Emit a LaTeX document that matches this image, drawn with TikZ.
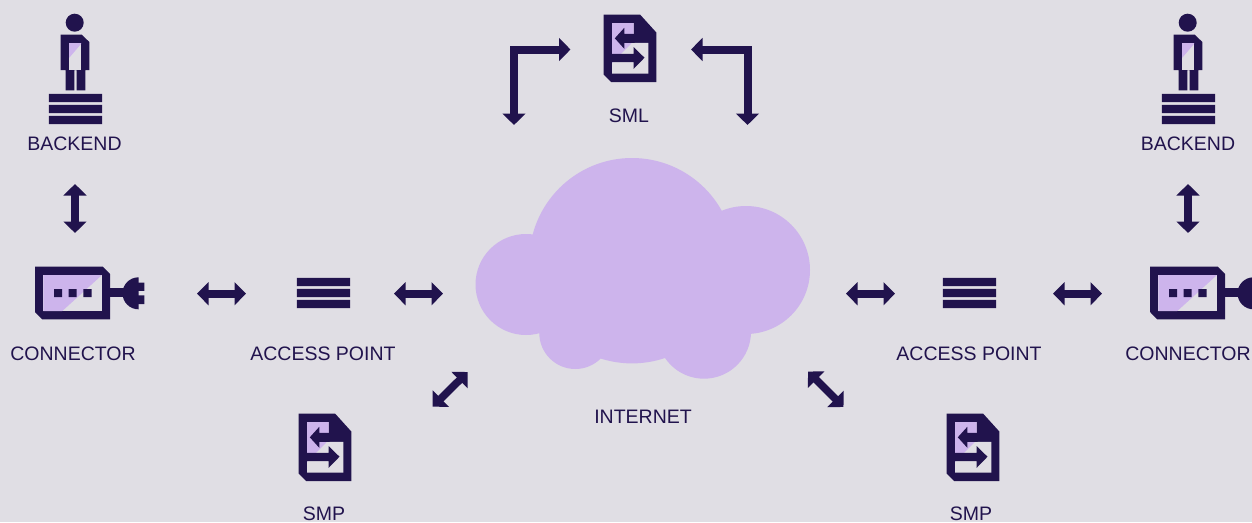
\documentclass[tikz,border=0pt]{standalone}
\usepackage{fontspec}
\setmainfont{Liberation Sans}
\usetikzlibrary{arrows.meta}
\definecolor{bgc}{HTML}{E0DEE4}
\definecolor{dark}{HTML}{21134D}
\definecolor{lav}{HTML}{CDB4EC}
\tikzset{
  lab/.style={anchor=base,text=dark,font=\fontsize{19.5}{22}\selectfont,inner sep=0pt},
  conn/.style={draw=dark,line width=7.6pt,{Triangle[length=11.5pt,width=22.5pt]}-{Triangle[length=11.5pt,width=22.5pt]}},
  elbow/.style={draw=dark,line width=8pt,line join=miter,{Triangle[length=11.5pt,width=22.5pt]}-{Triangle[length=11.5pt,width=22.5pt]}},
  pics/person/.style={code={
    \fill[dark] (74.7,22.7) circle (9);
    \fill[dark] (60.7,34.7) -- (81.8,34.7) -- (89.3,42) -- (89.3,70) -- (85.3,70) -- (85.3,90.3) -- (76.7,90.3) -- (76.7,70) -- (74.3,70) -- (74.3,90.3) -- (65.7,90.3) -- (65.7,70) -- (60.7,70) -- cycle;
    \fill[bgc] (69,43) rectangle (81,69.7);
    \fill[lav] (69,43) -- (81,43) -- (81,44) -- (69,58) -- cycle;
    \fill[dark] (48.8,93.8) rectangle (102.2,102.2) (48.8,104.8) rectangle (102.2,113.2) (48.8,115.8) rectangle (102.2,124.2);
  }},
  pics/connectoricon/.style={code={
    \fill[dark] (35,266.7) -- (102.8,266.7) -- (110,274) -- (110,319.3) -- (42.2,319.3) -- (35,312) -- cycle;
    \fill[bgc] (43.3,275) rectangle (102,311);
    \fill[lav] (43.3,275) -- (102,275) -- (62.3,311) -- (43.3,311) -- cycle;
    \fill[dark] (54,289) rectangle (62,297) (68.7,289) rectangle (76.7,297) (83.4,289) rectangle (91.6,297);
    \fill[dark] (109,288.3) rectangle (126,297.3);
    \fill[dark] (138.5,277.3) arc[start angle=270,end angle=90,radius=16] -- cycle;
    \fill[dark] (138,282.7) rectangle (144.3,290.8) (138,295.4) rectangle (144.3,304);
  }},
  pics/docicon/.style={code={
    \fill[dark] (603.7,14.7) -- (640.2,14.7) -- (656.3,32.5) -- (656.3,82) -- (611.2,82) -- (603.7,74.5) -- cycle;
    \fill[bgc] (612,23) -- (633.7,23) -- (633.7,42.8) -- (648.4,42.8) -- (648.4,73.7) -- (612,73.7) -- cycle;
    \fill[lav] (612,23) -- (633.7,23) -- (633.7,41) -- (612,63) -- cycle;
    \fill[dark] (614.8,38.3) -- (624.3,27.8) -- (624.3,33.8) -- (634.5,33.8) -- (634.5,42.8) -- (624.3,42.8) -- (624.3,48.8) -- cycle;
    \fill[dark] (644.5,57.7) -- (633.7,47.2) -- (633.7,53.8) -- (611,53.8) -- (611,62.2) -- (633.7,62.2) -- (633.7,68.8) -- cycle;
  }}
}
\begin{document}
\begin{tikzpicture}[x=1pt,y=-1pt]
\useasboundingbox (0,0) rectangle (1252,522);
\clip (0,0) rectangle (1252,522);
\fill[bgc] (0,0) rectangle (1252,522);
% cloud
\fill[lav] (632,260.7) circle (102.7) (526,284.5) circle (50.5) (746,270) circle (64) (575.3,333) circle (36) (704,331.7) circle (47);
% icons
\pic at (0,0) {person};
\pic at (1113,0) {person};
\pic at (0,0) {connectoricon};
\pic at (1115,0) {connectoricon};
\pic at (0,0) {docicon};
\pic at (-305,399) {docicon};
\pic at (343,399) {docicon};
\fill[dark] (296.8,277.8) rectangle (350.2,286.2) (296.8,288.8) rectangle (350.2,297.2) (296.8,299.8) rectangle (350.2,308.2);
\fill[dark] (942.8,277.8) rectangle (996.2,286.2) (942.8,288.8) rectangle (996.2,297.2) (942.8,299.8) rectangle (996.2,308.2);
% labels
\node[lab] (backendL) at (74.5,150.5) {BACKEND};
\node[lab] (backendR) at (1188,150.5) {BACKEND};
\node[lab] (connL) at (73,360.5) {CONNECTOR};
\node[lab] (connR) at (1188,360.5) {CONNECTOR};
\node[lab] (apL) at (323,360.5) {ACCESS POINT};
\node[lab] (apR) at (969,360.5) {ACCESS POINT};
\node[lab] (sml) at (629,122.5) {SML};
\node[lab] (internet) at (643,423.5) {INTERNET};
\node[lab] (smpL) at (324,520) {SMP};
\node[lab] (smpR) at (971,520) {SMP};
% connector end points
\coordinate (a1) at (75,184); \coordinate (a2) at (75,233);
\coordinate (b1) at (1188,184); \coordinate (b2) at (1188,233);
\coordinate (c1) at (197,293.7); \coordinate (c2) at (246,293.7);
\coordinate (d1) at (394,293.7); \coordinate (d2) at (443,293.7);
\coordinate (e1) at (846,293.7); \coordinate (e2) at (895,293.7);
\coordinate (f1) at (1053,293.7); \coordinate (f2) at (1102,293.7);
\coordinate (g1) at (467.7,372); \coordinate (g2) at (432.7,406.7);
\coordinate (h1) at (808,371.5); \coordinate (h2) at (843.5,407);
\coordinate (i1) at (570.5,49.5); \coordinate (i2) at (514,49.5); \coordinate (i3) at (514,125);
\coordinate (j1) at (691,49.5); \coordinate (j2) at (747.5,49.5); \coordinate (j3) at (747.5,125);
\foreach \p/\q in {a1/a2,b1/b2,c1/c2,d1/d2,e1/e2,f1/f2,g1/g2,h1/h2}
  \draw[conn] (\p) -- (\q);
\draw[elbow] (i1) -- (i2) -- (i3);
\draw[elbow] (j1) -- (j2) -- (j3);
\end{tikzpicture}
\end{document}
